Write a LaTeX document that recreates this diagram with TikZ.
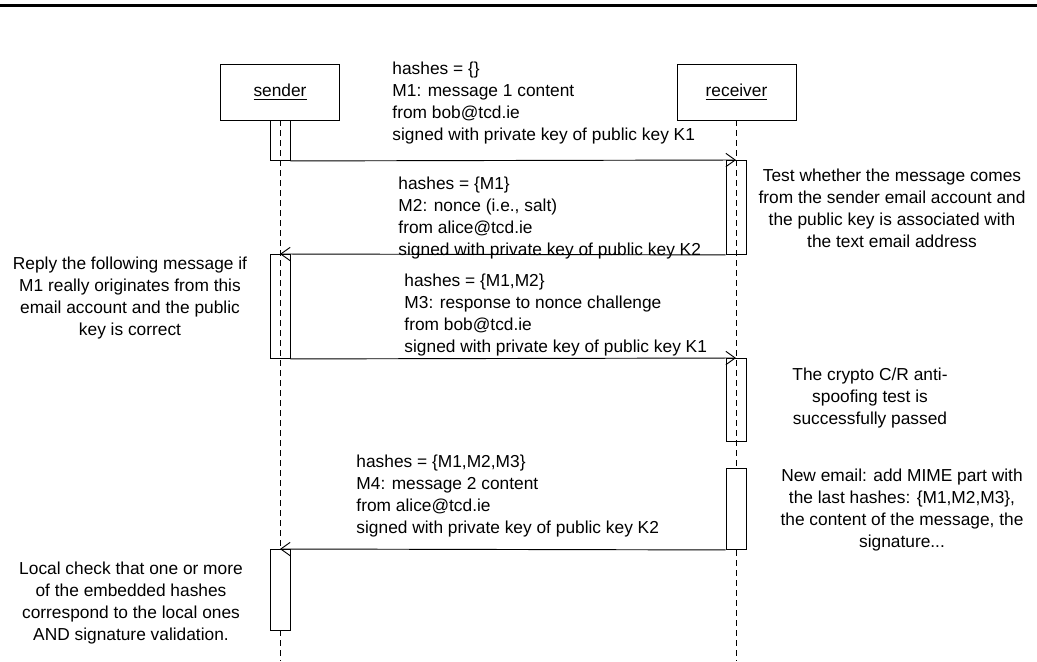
\documentclass[tikz,border=0pt]{standalone}
\usepackage{fontspec}
\setmainfont{Liberation Sans}
\usetikzlibrary{arrows.meta}

\begin{document}
\begin{tikzpicture}[x=0.75pt,y=0.75pt,yscale=-1,xscale=1,
  every path/.style={line width=0.7pt},
  font=\fontsize{13}{16.5}\selectfont,
  actor/.style={draw, minimum width=89.25pt, minimum height=42pt, inner sep=0pt},
  actbar/.style={draw, minimum width=15pt, inner sep=0pt, anchor=north},
  lifeline/.style={dash pattern=on 4.5pt off 3pt},
  msg/.style={-{Straight Barb[length=7pt,width=10pt]}},
  msgtext/.style={anchor=west, inner sep=0pt, align=left},
  note/.style={inner sep=0pt, align=center}]
\useasboundingbox (0,0) rectangle (1037,661);

%Straight Lines [top rule]
\draw [line width=2.25pt] (0,5) -- (1037,5) ;

%Shape: Rectangle [actors]
\node [actor] (sender) at (280,92) {\underline{sender}};
\node [actor] (receiver) at (736.5,92) {\underline{receiver}};
\coordinate (senderEnd) at (280,661);
\coordinate (receiverEnd) at (736,661);

%Straight Lines [lifelines]
\draw [lifeline] (sender) -- (senderEnd) ;
\draw [lifeline] (receiver.south -| receiverEnd) -- (receiverEnd) ;

%Shape: Rectangle [activations]
\node [actbar, minimum height=30pt] (sb1) at (280,120) {};
\node [actbar, minimum height=70.5pt] (rb1) at (736,160) {};
\node [actbar, minimum height=78pt] (sb2) at (280,254) {};
\node [actbar, minimum height=62.25pt] (rb2) at (736,358) {};
\node [actbar, fill=white, minimum height=60.75pt] (rb3) at (736,468) {};
\node [actbar, fill=white, minimum height=60.75pt] (sb3) at (280,549) {};

%Straight Lines [messages]
\draw [msg] (sb1.south east) -- (rb1.north) ;
\draw [msg] (rb1.south west) -- (sb2.north) ;
\draw [msg] (sb2.south east) -- (rb2.north) ;
\draw [msg] (rb3.south west) -- (sb3.north) ;

% Text Node
\node [msgtext] (m1) at (392,103.5) {hashes = \{\}\\M1: message 1 content\\from bob@tcd.ie\\signed with private key of public key K1};
% Text Node
\node [msgtext] (m2) at (398,218) {hashes = \{M1\}\\M2: nonce (i.e., salt)\\from alice@tcd.ie\\signed with private key of public key K2};
% Text Node
\node [msgtext] (m3) at (404,315) {hashes = \{M1,M2\}\\M3: response to nonce challenge\\from bob@tcd.ie\\signed with private key of public key K1};
% Text Node
\node [msgtext] (m4) at (356,496) {hashes = \{M1,M2,M3\}\\M4: message 2 content\\from alice@tcd.ie\\signed with private key of public key K2};

% Text Node
\node [note] (testNote) at (892,208) {Test whether the message comes\\from the sender email account and\\the public key is associated with\\the text email address};
% Text Node
\node [note] (replyNote) at (130,298) {Reply the following message if\\M1 really originates from this\\email account and the public\\key is correct};
% Text Node
\node [note] (passNote) at (870,398) {The crypto C/R anti-\\spoofing test is\\successfully passed};
% Text Node
\node [note] (mimeNote) at (902,510) {New email: add MIME part with\\the last hashes: \{M1,M2,M3\},\\the content of the message, the\\signature...};
% Text Node
\node [note] (checkNote) at (131,603) {Local check that one or more\\of the embedded hashes\\correspond to the local ones\\AND signature validation.};

\end{tikzpicture}
\end{document}
